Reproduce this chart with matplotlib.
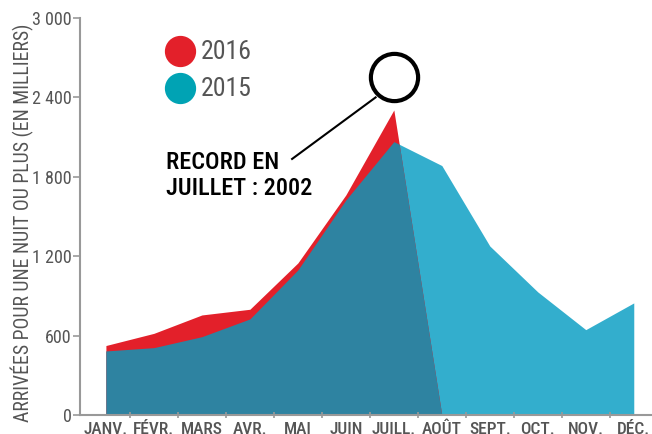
import numpy as np
import matplotlib
matplotlib.use("Agg")
import matplotlib.pyplot as plt
from matplotlib.ticker import FuncFormatter

plt.rcParams['font.family'] = ['Roboto Condensed', 'DejaVu Sans']

# Data (milliers d'arrivées)
months = ["JANV.", "FÉVR.", "MARS", "AVR.", "MAI", "JUIN", "JUILL.", "AOÛT",
          "SEPT.", "OCT.", "NOV.", "DÉC."]
arr_2015 = [484, 509, 592, 726, 1096, 1625, 2066, 1885, 1277, 930, 645, 847]
arr_2016 = [525, 617, 756, 799, 1149, 1663, 2305, 0]

red = '#e3202a'
light_blue = '#33aecd'
dark_blue = '#2e83a1'
legend_blue = '#00a3b4'
gray = '#555555'

x15 = np.arange(len(arr_2015))
x16 = np.arange(len(arr_2016))
y15 = np.array(arr_2015, dtype=float)
y16 = np.array(arr_2016, dtype=float)

# fine grid so the overlap (min of both areas) is drawn exactly
xf = np.linspace(0, len(arr_2016) - 1, 2000)
y15f = np.interp(xf, x15, y15)
y16f = np.interp(xf, x16, y16)

fig = plt.figure(figsize=(6.52, 4.34), dpi=100)
ax = fig.add_axes([80 / 652, 19 / 434, 572 / 652, 397 / 434])

ax.fill_between(x15, 0, y15, color=light_blue, lw=0)
ax.fill_between(x16, 0, y16, color=red, lw=0)
ax.fill_between(xf, 0, np.minimum(y15f, y16f), color=dark_blue, lw=0)

ax.set_xlim(-0.54, 11.38)
ax.set_ylim(0, 3000)

# axes style
for s in ['top', 'right']:
    ax.spines[s].set_visible(False)
ax.spines['left'].set_color('#999999')
ax.spines['bottom'].set_color('#999999')
ax.spines['left'].set_linewidth(1.5)
ax.spines['bottom'].set_linewidth(1.5)

ax.set_yticks(range(0, 3001, 600))
ax.yaxis.set_major_formatter(FuncFormatter(lambda v, p: f"{int(v):,}".replace(",", " ")))
ax.tick_params(axis='y', colors='#999999', labelcolor=gray, labelsize=13,
               length=5, width=1.2, pad=1)

ax.set_xticks(x15)
ax.set_xticklabels(months)
ax.set_xticks(np.arange(0.5, 11, 1), minor=True)
ax.tick_params(axis='x', which='major', length=0, labelcolor=gray, labelsize=12.5, pad=5)
ax.tick_params(axis='x', which='minor', length=5, width=1.2, colors='#999999',
               direction='inout')
for lbl in ax.get_xticklabels():
    lbl.set_fontweight('medium')

ax.set_ylabel("ARRIVÉES POUR UNE NUIT OU PLUS (EN MILLIERS)", color=gray,
              fontsize=14.2, va='center')
ax.yaxis.set_label_coords(-0.1, 0.484)

# legend
ax.plot([1.54], [2751], 'o', ms=21.5, color=red, clip_on=False)
ax.plot([1.54], [2471], 'o', ms=21.5, color=legend_blue, clip_on=False)
ax.text(1.97, 2745, "2016", color=gray, fontsize=18.5, va='center', ha='left')
ax.text(1.97, 2465, "2015", color=gray, fontsize=18.5, va='center', ha='left')

# annotation
ax.plot([3.88, 5.62], [1935, 2400], color='black', lw=1.5)
ax.plot([6], [2555], 'o', ms=34, mfc='white', mec='black', mew=3, clip_on=False)
ax.text(1.25, 1995, "RECORD EN\nJUILLET : 2002", color='black', fontsize=17.5,
        fontweight='medium', va='top', ha='left', linespacing=1.15)

fig.savefig("out.png", dpi=100)
